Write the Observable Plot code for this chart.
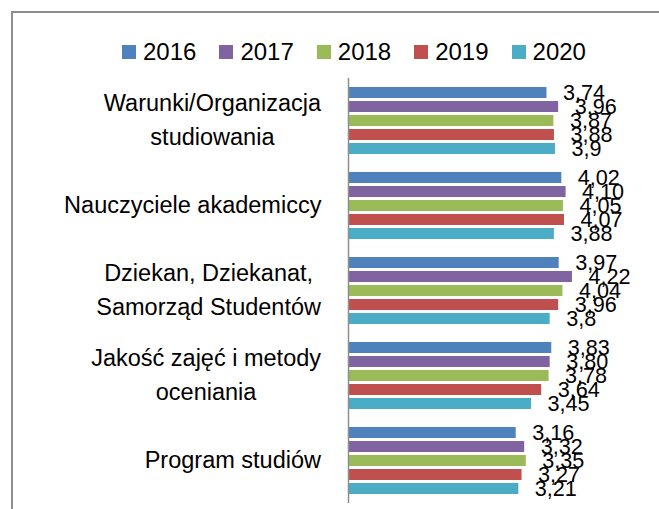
<!DOCTYPE html>
<html>
<head>
<meta charset="utf-8">
<script src="https://cdn.jsdelivr.net/npm/d3@7"></script>
<script src="https://cdn.jsdelivr.net/npm/@observablehq/plot@0.6"></script>
<style>
  html, body { margin: 0; padding: 0; background: #fff; }
  #wrap { position: relative; width: 659px; height: 509px; overflow: hidden; background: #fff; font-family: "Liberation Sans", Arial, sans-serif; }
  #border { position: absolute; left: 11px; top: 11px; right: -20px; bottom: -20px; border: 2px solid #8e8e8e; pointer-events: none; z-index: 3; }
  #legend { height: 77px; box-sizing: border-box; padding-top: 40px; padding-left: 122px; display: flex; align-items: flex-start; position: relative; z-index: 2; }
  .item { display: flex; align-items: center; margin-right: 23px; height: 24px; }
  .sw { width: 14px; height: 14px; margin-right: 7px; }
  .lt { font-size: 24px; line-height: 24px; color: #000; }
  #chart svg { display: block; }
</style>
</head>
<body>
<div id="wrap">
  <div id="border"></div>
  <div id="legend"></div>
  <div id="chart"></div>
</div>
<script>
const categories = [
  "Warunki/Organizacja\nstudiowania",
  "Nauczyciele akademiccy",
  "Dziekan, Dziekanat,\nSamorząd Studentów",
  "Jakość zajęć i metody\noceniania",
  "Program studiów"
];
const years = ["2016", "2017", "2018", "2019", "2020"];
const values2016 = ["3,74", "4,02", "3,97", "3,83", "3,16"];
const values2017 = ["3,96", "4,10", "4,22", "3,80", "3,32"];
const values2018 = ["3,87", "4,05", "4,04", "3,78", "3,35"];
const values2019 = ["3,88", "4,07", "3,96", "3,64", "3,27"];
const values2020 = ["3,9", "3,88", "3,8", "3,45", "3,21"];
const colors = ["#4f81bd", "#8064a2", "#9bbb59", "#c0504d", "#4bacc6"];

const series = [values2016, values2017, values2018, values2019, values2020];
const rows = [];
categories.forEach((c, i) => {
  years.forEach((y, j) => {
    const label = series[j][i];
    rows.push({category: c, year: y, label, value: +label.replace(",", ".")});
  });
});

// legend
const legend = document.getElementById("legend");
years.forEach((y, j) => {
  const it = document.createElement("div");
  it.className = "item";
  const sw = document.createElement("div");
  sw.className = "sw";
  sw.style.background = colors[j];
  const t = document.createElement("span");
  t.className = "lt";
  t.textContent = y;
  it.appendChild(sw); it.appendChild(t);
  legend.appendChild(it);
});

const chart = Plot.plot({
  width: 659,
  height: 432,
  marginLeft: 348,
  marginRight: 45.65,
  marginTop: 0,
  marginBottom: 6,
  style: {fontFamily: "Liberation Sans, Arial, sans-serif", background: "transparent", color: "#000", overflow: "visible"},
  facet: {data: rows, y: "category", marginTop: 0, marginBottom: 6, marginLeft: 348, marginRight: 45.65},
  fy: {domain: categories, padding: 0, axis: null, label: null},
  y: {domain: years, paddingInner: 0.22, paddingOuter: 0.61, axis: null, label: null},
  x: {domain: [0, 5], axis: null},
  color: {domain: years, range: colors},
  marks: [
    Plot.barX(rows, {x: "value", y: "year", fill: "year"}),
    Plot.ruleX([0], {stroke: "#8e8e8e", strokeWidth: 1.5}),
    Plot.text(rows, {
      x: "value", y: "year", text: "label", dx: 16, textAnchor: "start",
      fontSize: 21.6, fill: "#000"
    }),
    Plot.text(rows, {
      filter: d => d.year === "2018",
      text: "category", frameAnchor: "left", dx: -27, dy: -4, textAnchor: "end",
      lineAnchor: "middle", lineHeight: 1.45, fontSize: 23.5, fill: "#000"
    })
  ]
});
document.getElementById("chart").appendChild(chart);

// center the lines of each category label within its right-aligned block
const catSet = new Set(categories);
d3.select(chart).selectAll("text").each(function() {
  const tspans = this.querySelectorAll("tspan");
  const content = tspans.length ? Array.from(tspans, t => t.textContent).join("\n") : this.textContent;
  if (!catSet.has(content)) return;
  const w = this.getBBox().width;
  const tr = this.getAttribute("transform") || "";
  this.setAttribute("text-anchor", "middle");
  this.style.textAnchor = "middle";
  this.setAttribute("transform", tr + ` translate(${-w / 2},0)`);
});
</script>
</body>
</html>
